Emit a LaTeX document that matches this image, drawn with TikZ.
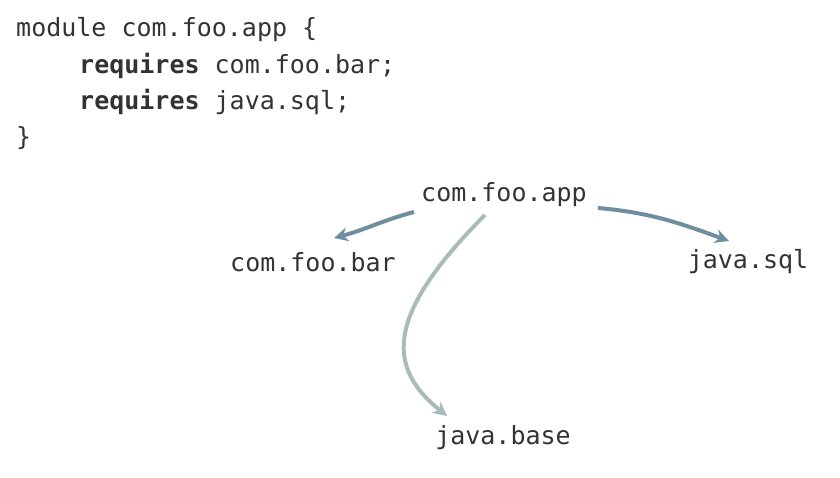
\documentclass[tikz,border=0pt]{standalone}
\usepackage{fontspec}
\setmonofont{DejaVu Sans Mono}
\usetikzlibrary{arrows.meta}
\definecolor{txt}{HTML}{333333}
\definecolor{arrA}{HTML}{6F8FA0}
\definecolor{arrB}{HTML}{A9BBBA}
\tikzset{
  code/.style={anchor=west,inner sep=0,text=txt,font=\ttfamily\fontsize{25}{30}\selectfont},
  mod/.style={inner sep=0,text=txt,font=\ttfamily\fontsize{25}{30}\selectfont},
  dep/.style={line width=4pt,draw=arrA,-{Stealth[length=14pt,width=14pt]}},
  depb/.style={line width=4pt,draw=arrB,-{Stealth[length=14pt,width=14pt]}}
}
\begin{document}
\begin{tikzpicture}[x=1pt,y=-1pt]
\fill[white] (0,0) rectangle (840,478);
\useasboundingbox (0,0) rectangle (840,478);
\node[code] (l1) at (16,30) {module com.foo.app \{};
\node[code] (l2) at (79,66) {\textbf{requires} com.foo.bar;};
\node[code] (l3) at (79,102) {\textbf{requires} java.sql;};
\node[code] (l4) at (16,138) {\}};
\node[mod] (app) at (504,195) {com.foo.app};
\node[mod] (bar) at (313,262) {com.foo.bar};
\node[mod] (sql) at (748,262) {java.sql};
\node[mod] (base) at (503,438) {java.base};
\coordinate (a1) at (414,212);
\coordinate (e1) at (334,238);
\coordinate (a2) at (598,208);
\coordinate (e2) at (729,241);
\coordinate (a3) at (485,215);
\coordinate (e3) at (447,416);
\draw[dep] (a1) to[out=195,in=15] (e1);
\draw[dep] (a2) to[out=-5,in=160] (e2);
\draw[depb] (a3) .. controls (380,320) and (390,370) .. (e3);
\end{tikzpicture}
\end{document}
